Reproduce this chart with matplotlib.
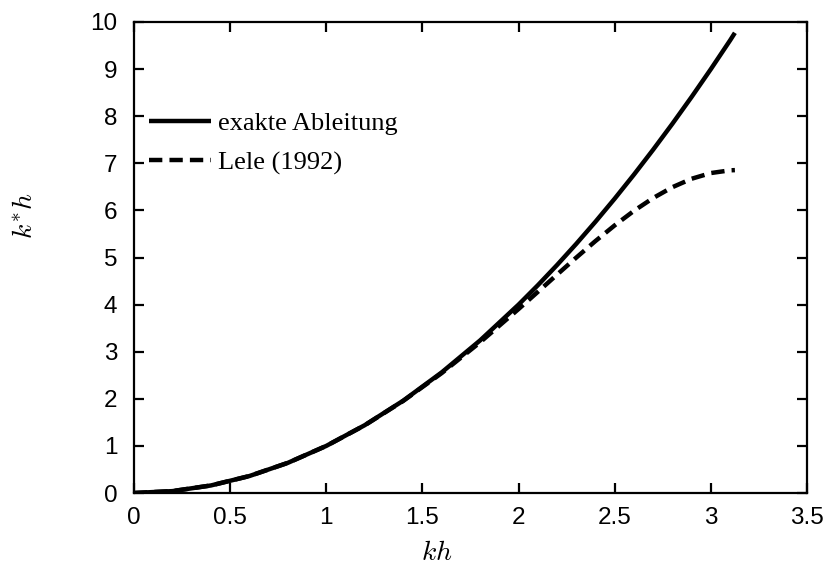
import matplotlib
matplotlib.use("Agg")
import matplotlib.pyplot as plt

kh = [0.0, 0.2, 0.4, 0.6, 0.8, 1.0, 1.2, 1.4, 1.6, 1.8, 2.0, 2.1, 2.2, 2.3,
      2.4, 2.5, 2.6, 2.7, 2.8, 2.9, 3.0, 3.1, 3.125]
exact = [0.0, 0.04, 0.16, 0.36, 0.64, 1.0, 1.44, 1.96, 2.56, 3.24, 4.0, 4.41,
         4.84, 5.29, 5.76, 6.25, 6.76, 7.29, 7.84, 8.41, 9.0, 9.61, 9.77]
lele = [0.0, 0.04, 0.16, 0.36, 0.64, 1.0, 1.438, 1.955, 2.545, 3.20, 3.906,
        4.27, 4.636, 4.998, 5.35, 5.683, 5.991, 6.263, 6.493, 6.672, 6.793,
        6.851, 6.855]
labels = ["exakte Ableitung", "Lele (1992)"]
xticks = [0, 0.5, 1, 1.5, 2, 2.5, 3, 3.5]
xticklabels = ["0", "0.5", "1", "1.5", "2", "2.5", "3", "3.5"]
yticks = list(range(0, 11))

plt.rcParams["mathtext.fontset"] = "cm"
fig = plt.figure(figsize=(8.29, 5.67), dpi=100)
ax = fig.add_axes([134/829, 1-493/567, (807-134)/829, (493-22)/567])

ax.plot(kh, exact, color="black", lw=3.2, solid_capstyle="butt", label=labels[0])
ax.plot(kh, lele, color="black", lw=3.2, dashes=(3.0, 1.6), dash_capstyle="butt",
        label=labels[1])

ax.set_xlim(0, 3.5)
ax.set_ylim(0, 10)
ax.set_xticks(xticks)
ax.set_xticklabels(xticklabels)
ax.set_yticks(yticks)
for s in ax.spines.values():
    s.set_linewidth(1.6)
ax.tick_params(direction="in", length=7, width=1.6, top=True, right=True,
               labelsize=17.5)
ax.tick_params(axis="y", pad=12)
ax.tick_params(axis="x", pad=10)
for lab in ax.get_xticklabels() + ax.get_yticklabels():
    lab.set_family("Liberation Sans")

ax.set_xlabel("$kh$", fontsize=20, va="center")
ax.xaxis.set_label_coords(0.45, -0.125)
ax.set_ylabel("$k^{*}h$", fontsize=20, va="center")
ax.yaxis.set_label_coords(-0.163, 0.588)

leg = ax.legend(loc="upper left", bbox_to_anchor=(0.0223, 0.81), frameon=False,
                prop={"family": "Liberation Serif", "size": 19},
                handlelength=2.35, handletextpad=0.27, labelspacing=0.6,
                borderaxespad=0.0, borderpad=0.0)

fig.savefig("out.png", dpi=100)
